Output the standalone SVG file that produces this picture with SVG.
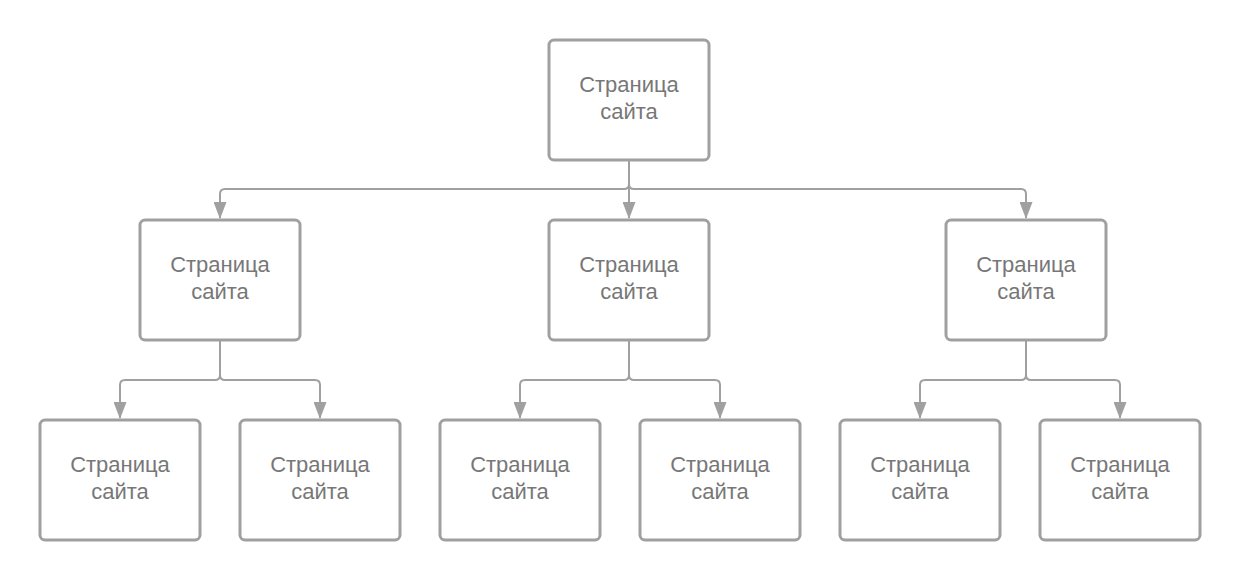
<svg xmlns="http://www.w3.org/2000/svg" width="1240" height="580" viewBox="0 0 1240 580">
<style>
.box{fill:#fff;stroke:#a0a0a0;stroke-width:3}
.lbl{font-family:"Liberation Sans",Arial,sans-serif;font-size:22px;fill:#777;text-anchor:middle}
.con{fill:none;stroke:#a0a0a0;stroke-width:2}
</style>
<defs>
<marker id="a" markerUnits="userSpaceOnUse" markerWidth="17" markerHeight="13" viewBox="0 0 17 13" refX="16" refY="6.5" orient="auto">
<path d="M0,0 L17,6.5 L0,13 Z" fill="#a0a0a0"/>
</marker>
</defs>
<rect width="1240" height="580" fill="#fff"/>
<g id="connectors">
<path class="con" d="M629,160 V184 Q629,189 624,189 H225 Q220,189 220,194 V218" marker-end="url(#a)"/>
<path class="con" d="M629,160 V218" marker-end="url(#a)"/>
<path class="con" d="M629,160 V184 Q629,189 634,189 H1021 Q1026,189 1026,194 V218" marker-end="url(#a)"/>
<path class="con" d="M220,340 V375 Q220,380 215,380 H125 Q120,380 120,385 V418" marker-end="url(#a)"/>
<path class="con" d="M220,340 V375 Q220,380 225,380 H315 Q320,380 320,385 V418" marker-end="url(#a)"/>
<path class="con" d="M629,340 V375 Q629,380 624,380 H525 Q520,380 520,385 V418" marker-end="url(#a)"/>
<path class="con" d="M629,340 V375 Q629,380 634,380 H715 Q720,380 720,385 V418" marker-end="url(#a)"/>
<path class="con" d="M1026,340 V375 Q1026,380 1021,380 H925 Q920,380 920,385 V418" marker-end="url(#a)"/>
<path class="con" d="M1026,340 V375 Q1026,380 1031,380 H1115 Q1120,380 1120,385 V418" marker-end="url(#a)"/>
</g>
<g id="n0"><rect class="box" x="549" y="40" width="160" height="120" rx="5"/><text class="lbl" x="629" y="92">Страница</text><text class="lbl" x="629" y="119">сайта</text></g>
<g id="n1"><rect class="box" x="140" y="220" width="160" height="120" rx="5"/><text class="lbl" x="220" y="272">Страница</text><text class="lbl" x="220" y="299">сайта</text></g>
<g id="n2"><rect class="box" x="549" y="220" width="160" height="120" rx="5"/><text class="lbl" x="629" y="272">Страница</text><text class="lbl" x="629" y="299">сайта</text></g>
<g id="n3"><rect class="box" x="946" y="220" width="160" height="120" rx="5"/><text class="lbl" x="1026" y="272">Страница</text><text class="lbl" x="1026" y="299">сайта</text></g>
<g id="n4"><rect class="box" x="40" y="420" width="160" height="120" rx="5"/><text class="lbl" x="120" y="472">Страница</text><text class="lbl" x="120" y="499">сайта</text></g>
<g id="n5"><rect class="box" x="240" y="420" width="160" height="120" rx="5"/><text class="lbl" x="320" y="472">Страница</text><text class="lbl" x="320" y="499">сайта</text></g>
<g id="n6"><rect class="box" x="440" y="420" width="160" height="120" rx="5"/><text class="lbl" x="520" y="472">Страница</text><text class="lbl" x="520" y="499">сайта</text></g>
<g id="n7"><rect class="box" x="640" y="420" width="160" height="120" rx="5"/><text class="lbl" x="720" y="472">Страница</text><text class="lbl" x="720" y="499">сайта</text></g>
<g id="n8"><rect class="box" x="840" y="420" width="160" height="120" rx="5"/><text class="lbl" x="920" y="472">Страница</text><text class="lbl" x="920" y="499">сайта</text></g>
<g id="n9"><rect class="box" x="1040" y="420" width="160" height="120" rx="5"/><text class="lbl" x="1120" y="472">Страница</text><text class="lbl" x="1120" y="499">сайта</text></g>
</svg>
